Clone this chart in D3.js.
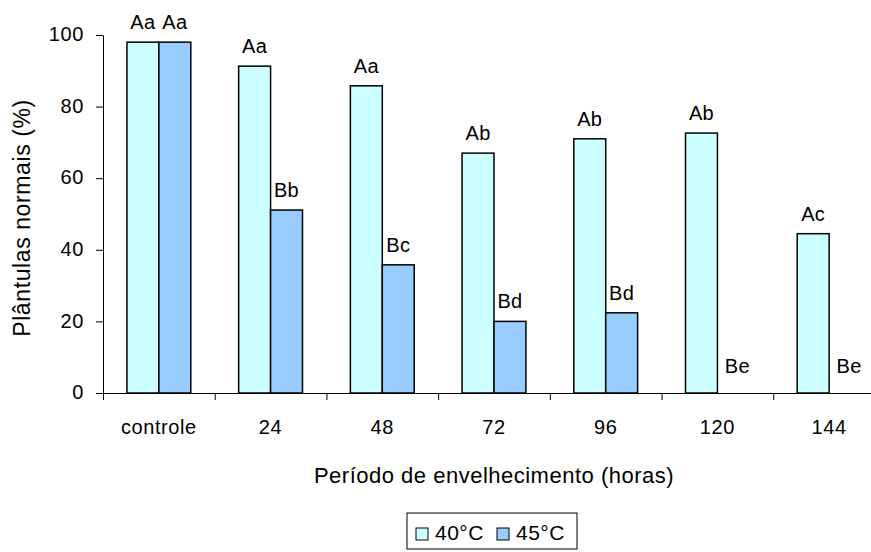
<!DOCTYPE html>
<html>
<head>
<meta charset="utf-8">
<script src="https://cdn.jsdelivr.net/npm/d3@7"></script>
<style>
  body { margin: 0; background: #fff; }
  svg { font-family: 'Liberation Sans', Arial, sans-serif; }
  .axis text { font-size: 20px; letter-spacing: 0.6px; fill: #000; font-family: 'Liberation Sans', Arial, sans-serif; }
  .axis path, .axis line { stroke: #000; stroke-width: 1; }
</style>
</head>
<body>
<svg id="chart" width="871" height="552"></svg>
<script>
const categories = ['controle', '24', '48', '72', '96', '120', '144'];
const seriesNames = ['40°C', '45°C'];
const values40 = [98, 91.3, 85.8, 67, 71, 72.6, 44.5];
const values45 = [98, 51.1, 35.8, 20, 22.4, 0, 0];
const labels40 = ['Aa', 'Aa', 'Aa', 'Ab', 'Ab', 'Ab', 'Ac'];
const labels45 = ['Aa', 'Bb', 'Bc', 'Bd', 'Bd', 'Be', 'Be'];
const yTicks = [0, 20, 40, 60, 80, 100];

const colours = { '40°C': '#ccffff', '45°C': '#99ccff' };

const svg = d3.select('#chart');
const margin = { top: 35, left: 103, bottom: 159 };
const plotRight = 885;
const height = 552 - margin.top - margin.bottom;

const data = categories.map((c, i) => ({
  cat: c,
  bars: [
    { s: '40°C', v: values40[i], label: labels40[i] },
    { s: '45°C', v: values45[i], label: labels45[i] }
  ]
}));

const x0 = d3.scaleBand().domain(categories).range([margin.left, plotRight]).padding(0);
const x1 = d3.scaleBand().domain(seriesNames).range([0, x0.bandwidth()]).paddingInner(0).paddingOuter(0.75);
const y = d3.scaleLinear().domain([0, 100]).range([margin.top + height, margin.top]);

// y axis
svg.append('g')
  .attr('class', 'axis')
  .attr('transform', `translate(${margin.left},0)`)
  .call(d3.axisLeft(y).tickValues(yTicks).tickSize(7).tickSizeOuter(0).tickPadding(12))
  .call(g => g.selectAll('text').attr('dy', '0.28em'));

// x axis: boundary ticks
const xb = d3.scaleLinear().domain([0, categories.length]).range([margin.left, plotRight]);
svg.append('g')
  .attr('class', 'axis')
  .attr('transform', `translate(0,${y(0)})`)
  .call(d3.axisBottom(xb).tickValues(d3.range(categories.length + 1)).tickFormat('').tickSize(7).tickSizeOuter(0));

// x axis: labels
svg.append('g')
  .attr('class', 'axis')
  .attr('transform', `translate(0,${y(0)})`)
  .call(d3.axisBottom(x0).tickSize(0).tickPadding(27))
  .call(g => g.select('.domain').remove());

// bars
const groups = svg.append('g')
  .selectAll('g')
  .data(data)
  .enter().append('g')
  .attr('transform', d => `translate(${x0(d.cat)},0)`);

groups.selectAll('rect')
  .data(d => d.bars)
  .enter().append('rect')
  .attr('x', d => x1(d.s))
  .attr('width', x1.bandwidth())
  .attr('y', d => y(d.v))
  .attr('height', d => y(0) - y(d.v))
  .style('fill', d => colours[d.s])
  .style('stroke', '#000')
  .style('stroke-width', 1.5);

groups.selectAll('text')
  .data(d => d.bars)
  .enter().append('text')
  .attr('x', d => x1(d.s) + x1.bandwidth() / 2 + (d.v === 0 ? 4 : 0))
  .attr('y', d => y(d.v) - (d.v === 0 ? 20 : 13))
  .style('text-anchor', 'middle')
  .style('font-size', '20px')
  .style('letter-spacing', '0.3px')
  .text(d => d.label);

// axis titles
svg.append('text')
  .attr('transform', `translate(30,${margin.top + height / 2 + 4}) rotate(-90)`)
  .style('text-anchor', 'middle')
  .style('font-size', '23px')
  .style('letter-spacing', '0.6px')
  .text('Plântulas normais (%)');

svg.append('text')
  .attr('x', (margin.left + plotRight) / 2)
  .attr('y', 483)
  .style('text-anchor', 'middle')
  .style('font-size', '22px')
  .style('letter-spacing', '0.5px')
  .text('Período de envelhecimento (horas)');

// legend
const legend = svg.append('g').attr('transform', 'translate(407,513)');
legend.append('rect')
  .attr('width', 170).attr('height', 36)
  .style('fill', '#fff').style('stroke', '#000').style('stroke-width', 1);

const items = legend.selectAll('.item')
  .data(seriesNames)
  .enter().append('g')
  .attr('class', 'item')
  .attr('transform', (d, i) => `translate(${9 + i * 81},15)`);

items.append('rect')
  .attr('width', 12).attr('height', 12)
  .style('fill', d => colours[d])
  .style('stroke', '#000').style('stroke-width', 1);

items.append('text')
  .attr('x', 19)
  .attr('y', 12)
  .style('font-size', '21px')
  .style('letter-spacing', '0.5px')
  .text(d => d);
</script>
</body>
</html>
